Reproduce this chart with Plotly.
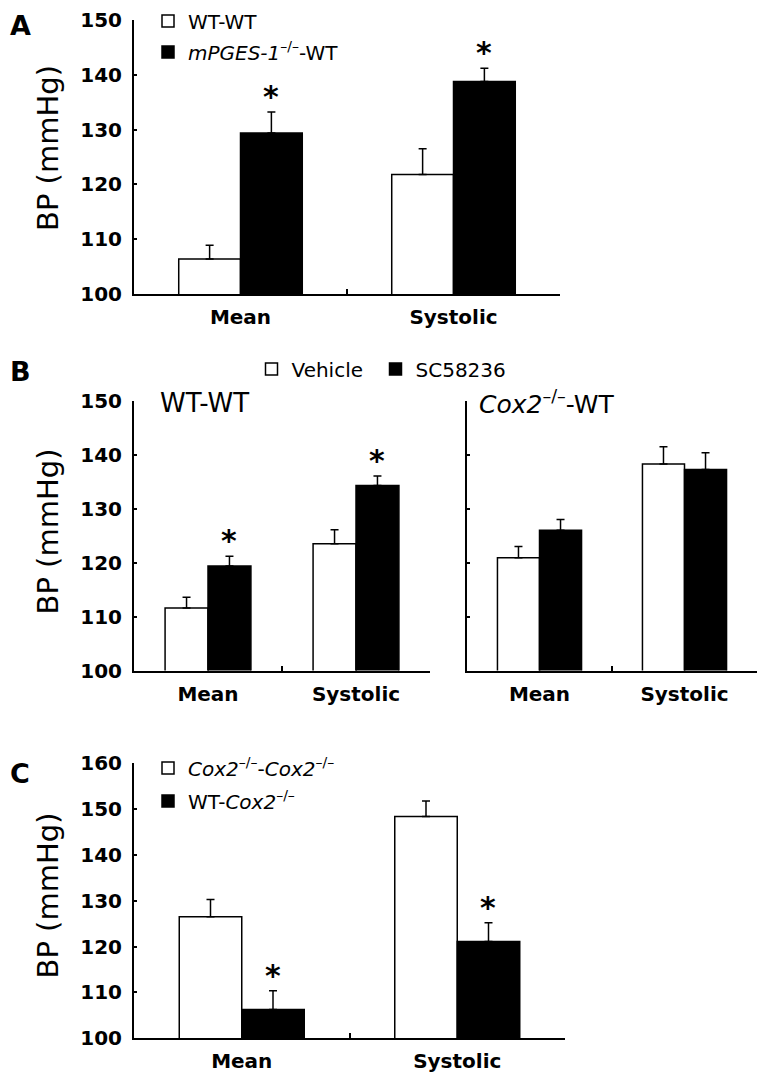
import plotly.graph_objects as go

W, H = 765, 1080
OFF = 8  # page body margin of the browser

categories = ["Mean", "Systolic"]

# Panel A
a_names = ["WT-WT", "<i>mPGES-1</i><sup>–/–</sup>-WT"]
a_white = [106.4, 121.8]
a_white_err = [2.5, 4.7]
a_black = [129.4, 138.8]
a_black_err = [3.8, 2.4]
a_black_sig = [True, True]

# Panel B
b_names = ["Vehicle", "SC58236"]
b_wt_vehicle = [111.6, 123.5]
b_wt_vehicle_err = [2.0, 2.6]
b_wt_sc = [119.4, 134.3]
b_wt_sc_err = [1.8, 1.8]
b_wt_sc_sig = [True, True]
b_cox_vehicle = [120.9, 138.3]
b_cox_vehicle_err = [2.1, 3.2]
b_cox_sc = [126.0, 137.3]
b_cox_sc_err = [2.0, 3.1]

# Panel C
c_names = ["<i>Cox2</i><sup>–/–</sup>-<i>Cox2</i><sup>–/–</sup>", "WT-<i>Cox2</i><sup>–/–</sup>"]
c_white = [126.5, 148.4]
c_white_err = [3.8, 3.4]
c_black = [106.3, 121.1]
c_black_err = [4.1, 4.1]
c_black_sig = [True, True]

FONT = "DejaVu Sans"
BARGAP = 0.42


def px(x):
    return (x - OFF) / W


def py(y):
    return 1 - (y - OFF) / H


# domains in pixels (left, right, top, bottom)
dom = {
    "A": (134, 560, 20, 294),
    "BL": (134, 430, 401, 670.5),
    "BR": (467, 757, 401, 670.5),
    "C": (134, 565, 763.3, 1038.3),
}
axis_ids = {"A": ("x", "y"), "BL": ("x2", "y2"), "BR": ("x3", "y3"), "C": ("x4", "y4")}

fig = go.Figure()


def add_bar(panel, name, vals, errs, color, legend, show):
    xa, ya = axis_ids[panel]
    fig.add_trace(go.Bar(
        x=categories, y=vals, name=name,
        marker=dict(color=color, line=dict(color="black", width=1.5)),
        error_y=dict(type="data", array=errs, arrayminus=[0] * len(errs), symmetric=False,
                     color="black", thickness=1.5, width=4),
        xaxis=xa, yaxis=ya, showlegend=show, legend=legend,
        legendgroup=legend + name,
    ))


add_bar("A", a_names[0], a_white, a_white_err, "white", "legend", True)
add_bar("A", a_names[1], a_black, a_black_err, "black", "legend", True)
add_bar("BL", b_names[0], b_wt_vehicle, b_wt_vehicle_err, "white", "legend2", True)
add_bar("BL", b_names[1], b_wt_sc, b_wt_sc_err, "black", "legend4", True)
add_bar("BR", b_names[0], b_cox_vehicle, b_cox_vehicle_err, "white", "legend2", False)
add_bar("BR", b_names[1], b_cox_sc, b_cox_sc_err, "black", "legend4", False)
add_bar("C", c_names[0], c_white, c_white_err, "white", "legend3", True)
add_bar("C", c_names[1], c_black, c_black_err, "black", "legend3", True)

layout = dict(
    width=W, height=H, margin=dict(l=0, r=0, t=0, b=0, autoexpand=False),
    paper_bgcolor="white", plot_bgcolor="white",
    barmode="group", bargap=BARGAP, bargroupgap=0,
    font=dict(family=FONT, color="black"),
)

yranges = {"A": [100, 150], "BL": [100, 150], "BR": [100, 150], "C": [100, 160]}
for panel, (l, r, t, b) in dom.items():
    xa, ya = axis_ids[panel]
    xk = "xaxis" + xa[1:]
    yk = "yaxis" + ya[1:]
    layout[xk] = dict(
        domain=[px(l), px(r)], anchor=ya, type="category",
        showline=True, linecolor="black", linewidth=2,
        ticks="inside", tickson="boundaries", ticklen=5, tickwidth=1.5, tickcolor="black",
        tickfont=dict(family=FONT, size=20, weight="bold", color="black"),
        ticklabelstandoff=4, showgrid=False, zeroline=False, fixedrange=True,
    )
    layout[yk] = dict(
        domain=[py(b), py(t)], anchor=xa, range=yranges[panel], dtick=10,
        showline=True, linecolor="black", linewidth=2,
        ticks="inside", ticklen=3, tickwidth=1.5, tickcolor="black",
        tickfont=dict(family=FONT, size=20, weight="bold", color="black"),
        showticklabels=(panel != "BR"), ticklabelstandoff=6,
        showgrid=False, zeroline=False, fixedrange=True,
    )

leg_common = dict(xanchor="left", yanchor="top", font=dict(family=FONT, size=20),
                  bgcolor="rgba(0,0,0,0)", itemclick=False, itemdoubleclick=False)
layout["legend"] = dict(x=px(148), y=py(1.5), traceorder="grouped", tracegroupgap=2, **leg_common)
layout["legend2"] = dict(x=px(251.5), y=py(349.5), orientation="h", **leg_common)
layout["legend4"] = dict(x=px(375.5), y=py(349.5), orientation="h", **leg_common)
layout["legend3"] = dict(x=px(148), y=py(748.5), traceorder="grouped", tracegroupgap=4, **leg_common)

annotations = []
# panel letters
annotations.append(dict(text="<b>A</b>", x=px(8), y=py(8), xref="paper", yref="paper",
                        xanchor="left", yanchor="top", showarrow=False,
                        font=dict(family=FONT, size=27, color="black")))
for letter, yc in [("B", 371), ("C", 773)]:
    annotations.append(dict(text=f"<b>{letter}</b>", x=px(8), y=py(yc), xref="paper", yref="paper",
                            xanchor="left", yanchor="middle", showarrow=False,
                            font=dict(family=FONT, size=27, color="black")))
# y axis titles
for yc in [148.5, 532, 896]:
    annotations.append(dict(text="BP (mmHg)", x=px(47.5), y=py(yc), xref="paper", yref="paper",
                            xanchor="center", yanchor="middle", textangle=-90, showarrow=False,
                            font=dict(family=FONT, size=29, color="black")))
# panel B subtitles
annotations.append(dict(text="WT-WT", x=px(158), y=py(403), xref="paper", yref="paper",
                        xanchor="left", yanchor="middle", showarrow=False,
                        font=dict(family=FONT, size=26, color="black")))
annotations.append(dict(text="<i>Cox2</i><sup>–/–</sup>-WT", x=px(477), y=py(403), xref="paper", yref="paper",
                        xanchor="left", yanchor="middle", showarrow=False,
                        font=dict(family=FONT, size=25, color="black")))


# asterisks above significant black bars
def add_stars(panel, vals, errs, sig):
    xa, ya = axis_ids[panel]
    l, r, t, b = dom[panel]
    cat_w = (r - l) / len(categories)
    bar_w = cat_w * (1 - BARGAP) / 2
    for c, v, e, s in zip(categories, vals, errs, sig):
        if s:
            annotations.append(dict(text="<b>*</b>", x=c, y=v + e, xref=xa, yref=ya,
                                    xshift=bar_w / 2, yshift=-4, xanchor="center", yanchor="bottom",
                                    showarrow=False, font=dict(family=FONT, size=30, color="black")))


add_stars("A", a_black, a_black_err, a_black_sig)
add_stars("BL", b_wt_sc, b_wt_sc_err, b_wt_sc_sig)
add_stars("C", c_black, c_black_err, c_black_sig)

layout["annotations"] = annotations
fig.update_layout(**layout)
fig.write_html("out.html")
